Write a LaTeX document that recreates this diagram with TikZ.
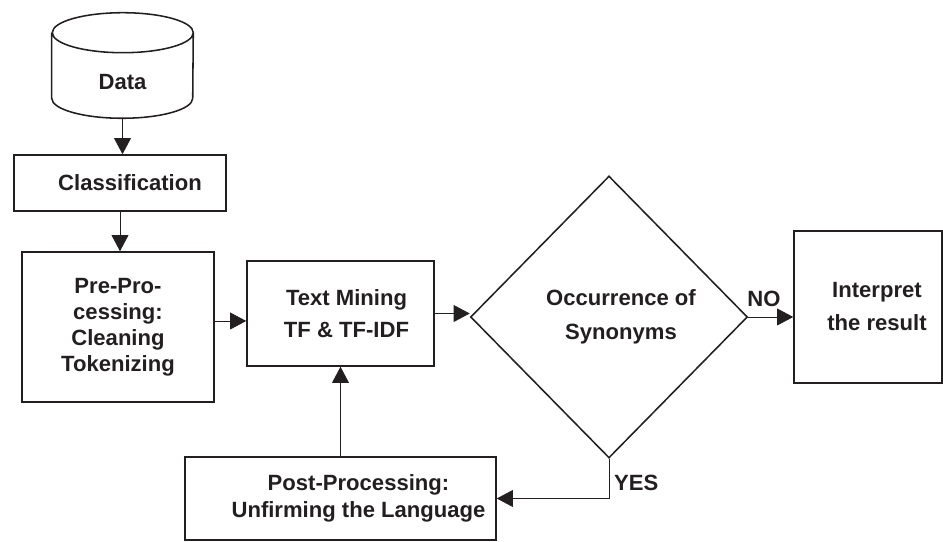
\documentclass[tikz,border=0pt]{standalone}
\usepackage{fontspec}
\setmainfont{Liberation Sans}
\usetikzlibrary{shapes.geometric,arrows.meta,positioning}
\definecolor{ink}{RGB}{35,31,32}

\begin{document}
\begin{tikzpicture}[
  font=\bfseries\fontsize{15.7}{18.5}\selectfont,
  every node/.style={text=ink},
  box/.style={draw=ink, line width=1.1pt, align=center, inner sep=0pt},
  decision/.style={diamond, draw=ink, line width=1.1pt, align=center, inner sep=0pt},
  flow/.style={draw=ink, line width=0.6pt, -{Triangle[length=0.4cm,width=0.42cm]}}
]
\useasboundingbox (0,0) rectangle (23.575,13.55);

\node (data) at (3.0625,11.9125) [minimum width=3.525cm, minimum height=2.625cm, text height=1.2cm, text depth=0pt, inner sep=0pt] {Data};
\draw[ink, line width=1.1pt] ([yshift=-0.5cm]data.north west) -- ([yshift=0.5cm]data.south west)
  arc[start angle=180, end angle=360, x radius=1.7625cm, y radius=0.5cm]
  -- ([yshift=-0.5cm]data.north east)
  arc[start angle=0, end angle=360, x radius=1.7625cm, y radius=0.5cm];

\node (class) at (3.0,8.975) [box, minimum width=5.3cm, minimum height=1.4cm] {\hspace*{0.5cm}Classification};
\node (pre) at (2.95,5.375) [box, minimum width=4.8cm, minimum height=3.75cm] {Pre-Pro-\\cessing:\\Cleaning\\Tokenizing};
\node (tm) at (8.5125,5.7125) [box, minimum width=4.675cm, minimum height=2.625cm] {\hspace*{0.3cm}Text Mining\\[4pt]\hspace*{0.3cm}TF \& TF-IDF};
\node (dia) at (15.225,5.625) [decision, minimum width=6.925cm, minimum height=7.05cm] {\hspace*{0.6cm}Occurrence of\\[5.5pt]\hspace*{0.6cm}Synonyms};
\node (int) at (21.7,5.875) [box, minimum width=3.7cm, minimum height=3.8cm] {\hspace*{0.45cm}Interpret\\[5pt]\hspace*{0.45cm}the result};
\node (post) at (8.5125,1.0875) [box, minimum width=7.775cm, minimum height=2.075cm] {\hspace*{0.9cm}Post-Processing:\\[0.5pt]\hspace*{0.9cm}Unfirming the Language};

\draw[flow] (data.south) -- (data.south |- class.north);
\draw[flow] (class.south) -- (class.south |- pre.north);
\draw[flow] ([yshift=0.15cm]pre.east) -- ([yshift=0.15cm]pre.east -| tm.west);
\draw[flow] (tm.east) -- (tm.east -| dia.west);
\draw[flow] (dia.east) -- node[above=0.14cm, pos=0.35] {NO} (dia.east -| int.west);
\draw[flow] (dia.south) |- node[right, pos=0.3] {YES} (post.east);
\draw[flow] (post.north) -- (tm.south);
\end{tikzpicture}
\end{document}
